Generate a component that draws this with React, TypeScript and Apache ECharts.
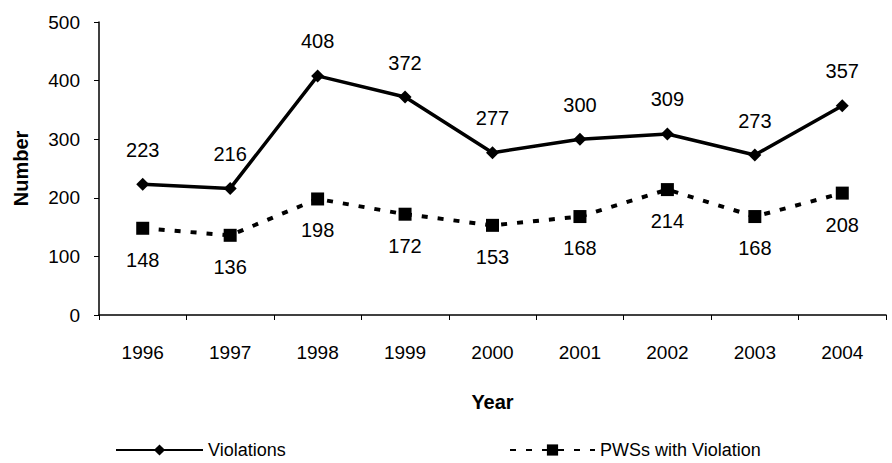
import React, { useEffect, useRef } from "react";
import * as echarts from "echarts";

const years = ["1996", "1997", "1998", "1999", "2000", "2001", "2002", "2003", "2004"];
const violations = [223, 216, 408, 372, 277, 300, 309, 273, 357];
const pwsWithViolation = [148, 136, 198, 172, 153, 168, 214, 168, 208];

const sans = "'Liberation Sans', Arial, sans-serif";

export default function App() {
  const ref = useRef<HTMLDivElement>(null);
  useEffect(() => {
    if (!ref.current) return;
    const chart = echarts.init(ref.current, undefined, { renderer: "svg" });
    chart.setOption({
      animation: false,
      backgroundColor: "#fff",
      grid: { left: 99, right: 6, top: 22, bottom: 148 },
      legend: [
        {
          data: [{ name: "Violations" }],
          left: 115,
          top: 441,
          padding: 0,
          itemWidth: 87,
          itemHeight: 14,
          textStyle: { fontFamily: sans, fontSize: 18, lineHeight: 18, color: "#000" },
        },
        {
          data: [{ name: "PWSs with Violation" }],
          left: 509,
          top: 441,
          padding: 0,
          itemWidth: 85,
          itemHeight: 14,
          textStyle: { fontFamily: sans, fontSize: 18, lineHeight: 18, color: "#000" },
        },
      ],
      xAxis: {
        type: "category",
        data: years,
        boundaryGap: true,
        name: "Year",
        nameLocation: "middle",
        nameGap: 77,
        nameTextStyle: { fontFamily: sans, fontWeight: "bold", fontSize: 20, color: "#000" },
        axisLine: { lineStyle: { color: "#000", width: 1.5 } },
        axisTick: { show: true, length: 5, lineStyle: { color: "#000" } },
        axisLabel: { fontFamily: sans, fontSize: 19, color: "#000", margin: 28 },
      },
      yAxis: {
        type: "value",
        min: 0,
        max: 500,
        interval: 100,
        name: "Number",
        nameLocation: "middle",
        nameGap: 68,
        nameTextStyle: { fontFamily: sans, fontWeight: "bold", fontSize: 20, color: "#000" },
        axisLine: { show: true, lineStyle: { color: "#000", width: 1.5 } },
        axisTick: { show: true, length: 5, lineStyle: { color: "#000" } },
        axisLabel: { fontFamily: sans, fontSize: 19, color: "#000", margin: 19 },
        splitLine: { show: false },
      },
      series: [
        {
          name: "Violations",
          type: "line",
          data: violations,
          symbol: "diamond",
          symbolSize: 13,
          itemStyle: { color: "#000" },
          lineStyle: { color: "#000", width: 3.5 },
          label: {
            show: true,
            position: "top",
            distance: 18,
            fontFamily: sans,
            fontSize: 20,
            color: "#000",
          },
        },
        {
          name: "PWSs with Violation",
          type: "line",
          data: pwsWithViolation,
          symbol: "rect",
          symbolSize: 13,
          itemStyle: { color: "#000" },
          lineStyle: { color: "#000", width: 4, type: [6, 10] },
          label: {
            show: true,
            position: "bottom",
            distance: 15,
            fontFamily: sans,
            fontSize: 20,
            color: "#000",
          },
        },
      ],
    });
    return () => chart.dispose();
  }, []);
  return <div ref={ref} style={{ width: 892, height: 463, position: "absolute", left: 0, top: 0 }} />;
}
